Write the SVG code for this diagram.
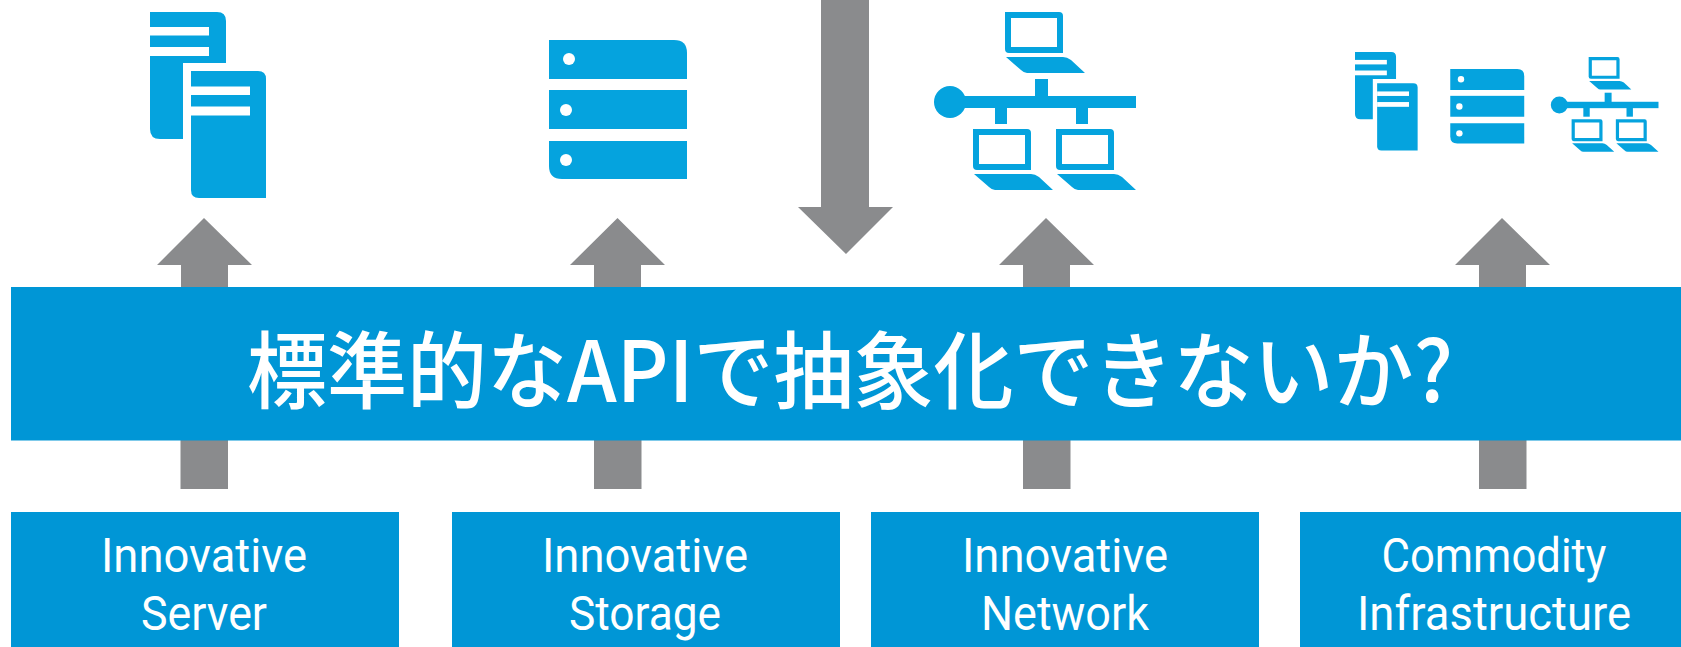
<svg xmlns="http://www.w3.org/2000/svg" xmlns:xlink="http://www.w3.org/1999/xlink" width="1681" height="647" viewBox="0 0 1681 647">
<style>
.i{fill:#05a3de}
.w{fill:#fff}
.a{fill:#8a8b8d}
.b{fill:#0096d6}
.t{fill:#fff;font-family:"Roboto","Noto Sans",sans-serif;font-size:48px;text-anchor:middle}
.m{fill:#fff;font-family:"Noto Sans CJK JP","Noto Sans",sans-serif;font-size:84px;font-weight:500}
</style>
<defs>
<g id="srv">
<path class="i" d="M150 12H217Q226 12 226 21V63H183V139H160Q150 139 150 129Z"/>
<rect class="w" x="150" y="27" width="59" height="8.500"/><rect class="w" x="150" y="47" width="59" height="9"/>
<path class="i" d="M191 71H258Q266 71 266 79V198H199Q191 198 191 190Z"/>
<rect class="w" x="191" y="86.500" width="59" height="8.500"/><rect class="w" x="191" y="106.500" width="59" height="9"/>
</g>
<g id="sto">
<path class="i" d="M549 40H674Q687 40 687 53V79H549Z"/>
<rect class="i" x="549" y="90" width="138" height="39"/>
<path class="i" d="M549 141H687V179H562Q549 179 549 166Z"/>
<circle class="w" cx="569" cy="59" r="6"/><circle class="w" cx="566" cy="110" r="6"/><circle class="w" cx="566" cy="160" r="6"/>
</g>
<g id="lap">
<path class="i" fill-rule="evenodd" d="M0 0H54Q58 0 58 4V41H4Q0 41 0 37ZM6 6V35H52V6Z"/>
<path class="i" d="M1 45H58Q62 45 66 48L80 61H22Q19 61 16 58Z"/>
</g>
<g id="net">
<circle class="i" cx="950" cy="102" r="16"/>
<rect class="i" x="960" y="96" width="176" height="12"/>
<rect class="i" x="1035" y="79" width="13" height="20"/>
<rect class="i" x="995" y="105" width="12" height="19"/>
<rect class="i" x="1076" y="105" width="12" height="19"/>
<use xlink:href="#lap" x="1005" y="12"/>
<use xlink:href="#lap" x="973" y="129"/>
<use xlink:href="#lap" x="1056" y="129"/>
</g>
</defs>
<rect width="1681" height="647" fill="#fff"/>
<g id="connectors">
<path class="a" d="M821 0H869V207H893L846 254L798 207H821Z"/>
<path class="a" d="M204 218L252 265H228V300H181V265H157Z"/>
<path class="a" d="M617.500 218L665 265H641V300H594V265H570Z"/>
<path class="a" d="M1046 218L1094 265H1070V300H1023V265H999Z"/>
<path class="a" d="M1502 218L1550 265H1526V300H1479V265H1455Z"/>
<rect class="a" x="180.500" y="430" width="47.500" height="59"/>
<rect class="a" x="594" y="430" width="47.500" height="59"/>
<rect class="a" x="1023" y="430" width="47.500" height="59"/>
<rect class="a" x="1479" y="430" width="47.500" height="59"/>
</g>
<g id="icon-server"><use xlink:href="#srv"/></g>
<g id="icon-storage"><use xlink:href="#sto"/></g>
<g id="icon-network"><use xlink:href="#net"/></g>
<g id="icon-commodity">
<use xlink:href="#srv" transform="translate(1274 45.600) scale(.54 .53)"/>
<use xlink:href="#sto" transform="translate(1156 47.600) scale(.536)"/>
<use xlink:href="#net" transform="translate(1053 50.600) scale(.533)"/>
</g>
<g id="banner">
<rect class="b" x="11" y="287" width="1670" height="153.500"/>
<text class="m" x="247" y="402" textLength="1206" lengthAdjust="spacingAndGlyphs">標準的なAPIで抽象化できないか?</text>
</g>
<g id="box-server">
<rect class="b" x="11" y="512" width="388" height="135"/>
<text class="t" x="204" y="572" textLength="206" lengthAdjust="spacingAndGlyphs">Innovative</text>
<text class="t" x="204" y="630" textLength="126" lengthAdjust="spacingAndGlyphs">Server</text>
</g>
<g id="box-storage">
<rect class="b" x="452" y="512" width="388" height="135"/>
<text class="t" x="645" y="572" textLength="206" lengthAdjust="spacingAndGlyphs">Innovative</text>
<text class="t" x="645" y="630" textLength="152" lengthAdjust="spacingAndGlyphs">Storage</text>
</g>
<g id="box-network">
<rect class="b" x="871" y="512" width="388" height="135"/>
<text class="t" x="1065" y="572" textLength="206" lengthAdjust="spacingAndGlyphs">Innovative</text>
<text class="t" x="1065" y="630" textLength="168" lengthAdjust="spacingAndGlyphs">Network</text>
</g>
<g id="box-commodity">
<rect class="b" x="1300" y="512" width="381" height="135"/>
<text class="t" x="1494" y="572" textLength="225" lengthAdjust="spacingAndGlyphs">Commodity</text>
<text class="t" x="1494" y="630" textLength="274" lengthAdjust="spacingAndGlyphs">Infrastructure</text>
</g>
</svg>
